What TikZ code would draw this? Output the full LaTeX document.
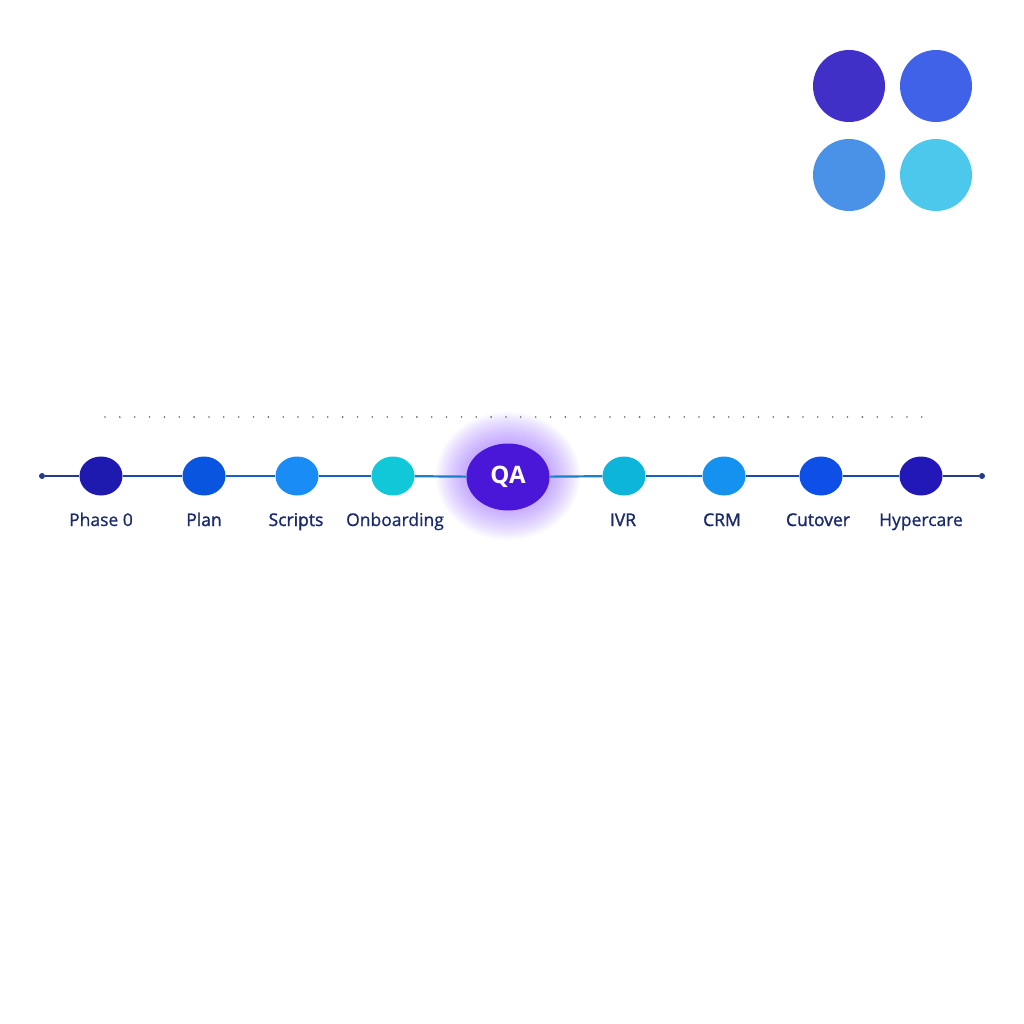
\documentclass[tikz,border=0pt]{standalone}
\usepackage{fontspec}
\setmainfont{Open Sans}
\usetikzlibrary{shapes.geometric}
\definecolor{txtc}{HTML}{1A2A6C}
\definecolor{cA}{HTML}{1E1AB0}
\definecolor{cB}{HTML}{0A55E0}
\definecolor{cC}{HTML}{1A8CF5}
\definecolor{cD}{HTML}{10C8D8}
\definecolor{cQ}{HTML}{4A17D8}
\definecolor{cE}{HTML}{0DB5DA}
\definecolor{cF}{HTML}{1591F0}
\definecolor{cG}{HTML}{0E4FE8}
\definecolor{cH}{HTML}{2218B8}
\definecolor{sA}{HTML}{4030C8}
\definecolor{sB}{HTML}{4062E8}
\definecolor{sC}{HTML}{4A92E8}
\definecolor{sD}{HTML}{4CC8EC}
\definecolor{glow}{HTML}{8A4DFF}
\definecolor{lnA}{HTML}{263A8C}
\definecolor{lnB}{HTML}{1A48B0}
\definecolor{lnC}{HTML}{1662C4}
\definecolor{lnD}{HTML}{1A80C8}
\tikzset{
  milestone/.style={ellipse, minimum width=43pt, minimum height=39pt, inner sep=0pt, fill=#1},
  lbl/.style={text=txtc, font=\fontsize{17.5}{20}\selectfont\addfontfeature{FakeBold=0.8}, inner sep=0pt, anchor=base},
  lblb/.style={text=txtc, font=\fontsize{17.5}{20}\selectfont\addfontfeature{FakeBold=1.6}, inner sep=0pt, anchor=base},
  swatch/.style={circle, minimum size=72pt, inner sep=0pt, fill=#1},
  conn/.style={draw=#1, line width=2.2pt},
  enddot/.style={circle, fill=lnA, minimum size=6pt, inner sep=0pt}
}
\begin{document}
\begin{tikzpicture}[x=1pt,y=-1pt]
\useasboundingbox[fill=white] (0,0) rectangle (1024,1024);
% swatches
\node[swatch=sA] (s1) at (849,86) {};
\node[swatch=sB] (s2) at (936,86) {};
\node[swatch=sC] (s3) at (849,175) {};
\node[swatch=sD] (s4) at (936,175) {};
% dotted guide
\coordinate (dl) at (105,417);
\coordinate (dr) at (922,417);
\draw[gray!80!black, line width=1.8pt, line cap=round, dash pattern=on 0pt off 14.85pt] (dl) -- (dr);
% glow
\foreach \i in {1,...,14}{
  \fill[glow, opacity=0.04] (508,476) ellipse ({41+\i*2.2pt} and {33+\i*2.2pt});
}
% end points
\node[enddot] (st) at (42,476) {};
\node[enddot] (en) at (982,476) {};
% milestones
\node[milestone=cA] (p0) at (101,476) {};
\node[milestone=cB] (pl) at (204,476) {};
\node[milestone=cC] (sc) at (297,476) {};
\node[milestone=cD] (on) at (393,476) {};
\node[ellipse, fill=cQ, minimum width=83pt, minimum height=67pt, inner sep=0pt, text=white, font=\fontsize{24}{26}\selectfont\bfseries] (qa) at (508,477) {QA};
\node[milestone=cE] (iv) at (624,476) {};
\node[milestone=cF] (cr) at (724,476) {};
\node[milestone=cG] (cu) at (821,476) {};
\node[milestone=cH] (hy) at (921,476) {};
% connectors
\draw[conn=lnA] (st) -- (p0);
\draw[conn=lnB] (p0) -- (pl);
\draw[conn=lnC] (pl) -- (sc);
\draw[conn=lnC] (sc) -- (on);
\draw[conn=lnD] (on) -- (qa);
\draw[conn=lnD] (qa) -- (iv);
\draw[conn=lnC] (iv) -- (cr);
\draw[conn=lnB] (cr) -- (cu);
\draw[conn=lnB] (cu) -- (hy);
\draw[conn=lnA] (hy) -- (en);
% labels
\node[lbl] (l0) at (101,526) {Phase 0};
\node[lblb] (l1) at (204,526) {Plan};
\node[lblb] (l2) at (296,526) {Scripts};
\node[lbl] (l3) at (395,526) {Onboarding};
\node[lblb] (l5) at (623,526) {IVR};
\node[lblb] (l6) at (722,526) {CRM};
\node[lblb] (l7) at (818,526) {Cutover};
\node[lbl] (l8) at (921,526) {Hypercare};
\end{tikzpicture}
\end{document}
